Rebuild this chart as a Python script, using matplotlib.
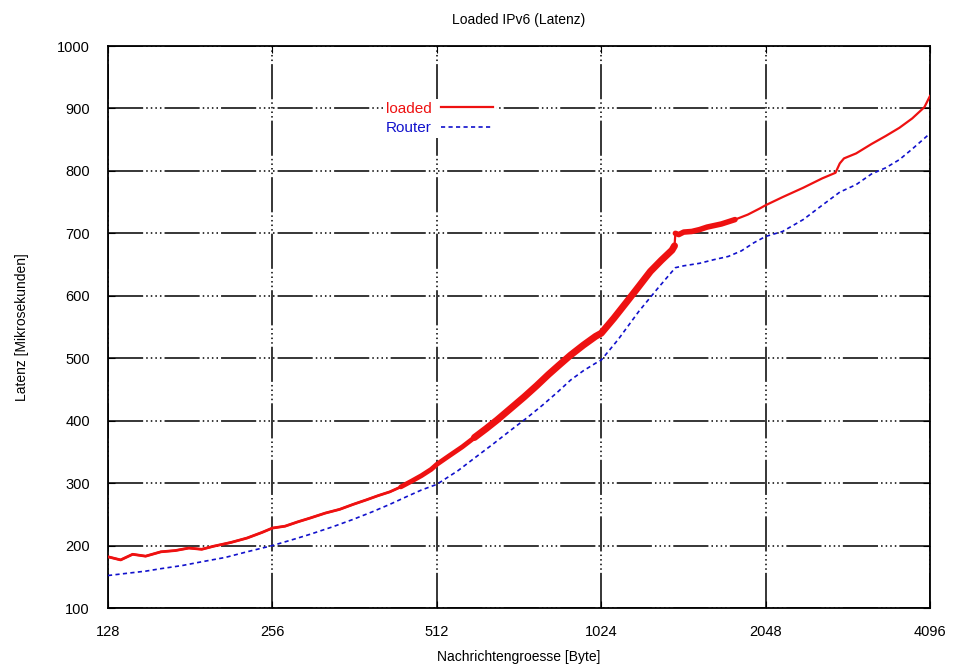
import numpy as np
from matplotlib import pyplot as plt
from matplotlib.ticker import FixedLocator, FixedFormatter, NullLocator

# message size [Byte] and latency [us]
x_loaded = [128, 135, 142, 150, 160, 170, 180, 190, 200, 215, 230, 245, 256, 270, 285, 300, 320, 340,
            360, 380, 400, 420, 440, 460, 480, 500, 512, 540, 570, 600, 630, 660, 700, 740, 780,
            820, 860, 900, 950, 1000, 1024, 1080, 1140, 1200, 1260, 1320, 1380, 1395, 1400,
            1420, 1450, 1500, 1550, 1600, 1700, 1800, 1900, 2000, 2048, 2200, 2400, 2600, 2750, 2800,
            2850, 3000, 3200, 3400, 3600, 3800, 4000, 4096]
y_loaded = [182, 177, 186, 183, 190, 192, 196, 194, 199, 205, 212, 221, 228, 231, 238, 244, 252, 258,
            266, 273, 280, 286, 294, 303, 312, 322, 330, 344, 358, 373, 387, 401, 420, 438, 456,
            474, 490, 505, 521, 535, 540, 564, 590, 615, 639, 657, 673, 680, 700,
            698, 702, 703, 706, 710, 715, 722, 730, 740, 745, 758, 773, 788, 797, 812,
            820, 828, 843, 856, 869, 884, 902, 920]

x_router = [128, 140, 150, 160, 175, 190, 210, 230, 256, 280, 300, 330, 360, 390, 420, 450, 480, 512,
            560, 600, 650, 700, 750, 800, 850, 900, 950, 1000, 1024, 1100, 1200, 1300, 1400, 1450,
            1550, 1650, 1750, 1850, 1950, 2048, 2200, 2400, 2600, 2800, 3000, 3200, 3400, 3600, 3800,
            4096]
y_router = [152, 156, 159, 163, 168, 174, 181, 190, 200, 210, 218, 230, 242, 254, 266, 278, 289, 298,
            320, 340, 363, 385, 405, 425, 445, 465, 480, 492, 497, 530, 575, 612, 645, 648,
            652, 658, 663, 672, 685, 695, 703, 722, 745, 766, 778, 795, 805, 818, 835, 860]

# the loaded curve is noisy, drawn wider where the noise band is wider
noise_ranges = [(128, 440, 2.0), (440, 600, 3.5), (600, 1395, 5.0), (1400, 1800, 4.0)]

xticks = [128, 256, 512, 1024, 2048, 4096]
yticks = [100, 200, 300, 400, 500, 600, 700, 800, 900, 1000]

plt.rcParams['font.family'] = ['Liberation Sans', 'DejaVu Sans']
fig = plt.figure(figsize=(9.55, 6.66), dpi=100)
ax = fig.add_axes((108/955, 1-608/666, 822/955, 562/666))

ax.set_xscale("log", base=2)
ax.set_xlim(128, 4096)
ax.set_ylim(100, 1000)

red = "#ee1111"
blue = "#1111cc"
ax.plot(x_loaded, y_loaded, color=red, lw=1.6, label="loaded", zorder=3)
xl = np.array(x_loaded)
yl = np.array(y_loaded)
for lo, hi, w in noise_ranges:
    m = (xl >= lo) & (xl <= hi)
    ax.plot(xl[m], yl[m], color=red, lw=w, zorder=3, solid_capstyle="round")
ax.plot(x_router, y_router, color=blue, lw=1.2, ls=(0, (2.5, 2)), label="Router", zorder=3)

ax.xaxis.set_major_locator(FixedLocator(xticks))
ax.xaxis.set_major_formatter(FixedFormatter([str(v) for v in xticks]))
ax.xaxis.set_minor_locator(NullLocator())
ax.set_yticks(yticks)
ax.tick_params(direction="in", length=5, top=True, right=True, labelsize=10.5)
ax.tick_params(axis="y", pad=13)
ax.tick_params(axis="x", pad=12)

gridstyle = (0, (23, 2, 1, 2, 1, 2, 1, 2, 1, 2))
ax.grid(True, color="black", lw=1.1, ls=gridstyle, zorder=1)
for s in ax.spines.values():
    s.set_linewidth(1.3)

ax.set_title("Loaded IPv6 (Latenz)", fontsize=10, pad=16)
ax.set_xlabel("Nachrichtengroesse [Byte]", fontsize=10, labelpad=8)
ax.set_ylabel("Latenz [Mikrosekunden]", fontsize=10, labelpad=20)

leg = ax.legend(loc="center", bbox_to_anchor=(0.403, 0.871), frameon=True, fancybox=False,
                edgecolor="none", facecolor="white", framealpha=1, fontsize=11, markerfirst=False,
                handlelength=3.4, borderpad=0.2, labelspacing=0.35, handletextpad=0.6)
for t, c in zip(leg.get_texts(), [red, blue]):
    t.set_color(c)

fig.savefig("out.png", dpi=100)
